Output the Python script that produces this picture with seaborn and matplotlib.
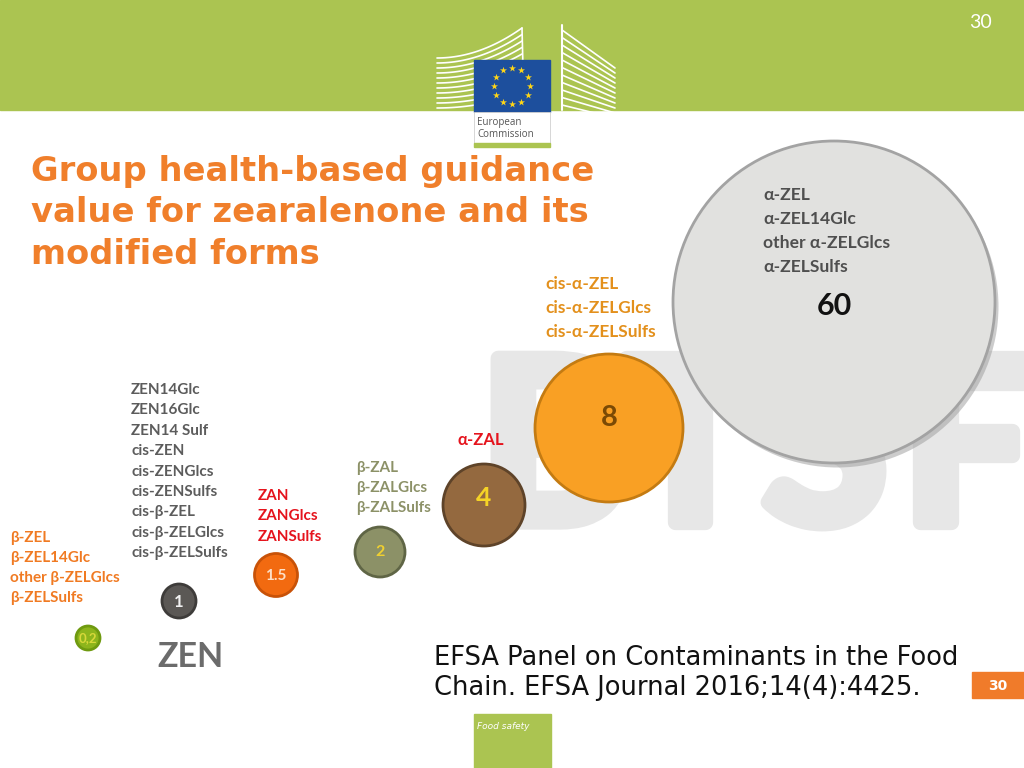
import numpy as np
import pandas as pd
import matplotlib.pyplot as plt
import matplotlib.patheffects as pe
import seaborn as sns
from matplotlib.patches import Rectangle

# Bubble data: potency factors of the modified forms
factor_text = ['0,2', '1', '1.5', '2', '4', '8', '60']
factor_value = [0.2, 1, 1.5, 2, 4, 8, 60]
fill_colors = ['#8db51c', '#5b5855', '#f26a10', '#8c9167', '#94693f', '#f9a024', '#e1e1df']
edge_colors = ['#6f9a10', '#3e3c3a', '#c85208', '#5f6545', '#5e4329', '#c47b12', '#a3a3a3']
number_colors = ['#d8d83a', '#f2f2f2', '#fde0c8', '#f0d030', '#f5d326', '#7b4a05', '#111111']

# Group labels
group_text = [
    ['α-ZEL', 'α-ZEL14Glc', 'other α-ZELGlcs', 'α-ZELSulfs'],
    ['cis-α-ZEL', 'cis-α-ZELGlcs', 'cis-α-ZELSulfs'],
    ['ZEN14Glc', 'ZEN16Glc', 'ZEN14 Sulf', 'cis-ZEN', 'cis-ZENGlcs', 'cis-ZENSulfs',
     'cis-β-ZEL', 'cis-β-ZELGlcs', 'cis-β-ZELSulfs'],
    ['ZAN', 'ZANGlcs', 'ZANSulfs'],
    ['β-ZAL', 'β-ZALGlcs', 'β-ZALSulfs'],
    ['α-ZAL'],
    ['β-ZEL', 'β-ZEL14Glc', 'other β-ZELGlcs', 'β-ZELSulfs'],
]
group_colors = ['#4f4f4f', '#e3901c', '#5c5c5c', '#e5141d', '#8c9167', '#e5141d', '#f07a22']

title_lines = ['Group health-based guidance', 'value for zearalenone and its', 'modified forms']
citation_lines = ['EFSA Panel on Contaminants in the Food', 'Chain. EFSA Journal 2016;14(4):4425.']

# layout (pixel space of the slide)
bubble_x = [88, 179, 276, 380, 484, 609, 834]
bubble_y = [638, 601, 575, 552, 505, 428, 302]
bubble_r = [12, 17, 21.5, 25, 41, 74, 161]
number_dy = [0, 1, 1, 0, -7.5, -10, 4]
number_sizes = [9.5, 12, 11, 11.5, 19, 21, 22]
group_pos = [(763, 200, 24), (545, 289, 24), (131, 394, 20.4), (258, 500, 20.5),
             (356, 472, 20), (457, 445, 20), (10, 542, 20)]
group_fs = [12.6, 12.4, 11, 11, 11, 12, 11]

sns.set_theme(style='white')
plt.rcParams['font.family'] = ['Lato', 'DejaVu Sans']

fig = plt.figure(figsize=(10.24, 7.68), dpi=100)
ax = fig.add_axes([0, 0, 1, 1])
ax.set_xlim(0, 1024)
ax.set_ylim(768, 0)
ax.axis('off')


def put_lines(x, y0, step, lines, **kw):
    for k, line in enumerate(lines):
        ax.text(x, y0 + k * step, line, va='baseline', ha='left', **kw)


# top banner + page number
ax.add_patch(Rectangle((0, 0), 1024, 110, color='#abc451', zorder=0))
ax.text(980, 28, '30', color='white', fontsize=14, ha='center', va='baseline')

# European Commission logo
for i in range(11):
    y0 = 58 + i * 5
    xs = np.linspace(437, 522, 30)
    ys = y0 - (xs - 437) ** 2 / 85 ** 2 * (30 - i * 1.5)
    ax.plot(xs, ys, color='white', lw=1.2, zorder=1)
ax.plot([522, 524], [28, 108], color='white', lw=1.2, zorder=1)
for i in range(11):
    y0 = 30 + i * 7.5
    xs = np.linspace(562, 615, 30)
    ys = y0 + (xs - 562) / 53 * (38 - i * 2.5)
    ax.plot(xs, ys, color='white', lw=1.2, zorder=1)
ax.plot([562, 562], [25, 110], color='white', lw=1.5, zorder=1)
ax.add_patch(Rectangle((474, 60), 76, 52, color='#1d4f9d', zorder=2))
ang = np.arange(12) * np.pi / 6
ax.scatter(512 + 18 * np.cos(ang), 86 + 18 * np.sin(ang), marker='*', s=28,
           color='#ffd617', linewidths=0, zorder=3)
ax.add_patch(Rectangle((474, 112), 76, 31, facecolor='white', edgecolor='#d0d0d0',
                       lw=0.6, zorder=2))
ax.add_patch(Rectangle((474, 143), 76, 4, color='#abc451', zorder=2))
put_lines(477, 125, 12, ['European', 'Commission'], fontsize=7, color='#555555',
          zorder=3, family=['Open Sans', 'DejaVu Sans'])

# BTSF watermark (stroke to thicken the letters)
wm_col = '#e7e7e7'
wm = dict(fontsize=163, fontweight='bold', color=wm_col, va='baseline', zorder=1,
          path_effects=[pe.withStroke(linewidth=11, foreground=wm_col)])
ax.text(480, 522, 'B', ha='left', **wm)
ax.text(690, 522, 'T', ha='center', **wm)
ax.text(825, 522, 'S', ha='center', **wm)
ax.text(902, 522, 'F', ha='left', **wm)

# title
put_lines(31, 181, 41.5, title_lines, color='#f07f2b', fontsize=24.3,
          fontweight='bold', family='DejaVu Sans', zorder=4)

# bubbles
df = pd.DataFrame({'label': factor_text, 'value': factor_value,
                   'x': bubble_x, 'y': bubble_y, 'r': bubble_r})
df['area'] = (2 * df['r'] * 0.72) ** 2
pal = dict(zip(factor_text, fill_colors))
sizes = dict(zip(factor_text, df['area']))

# shadow for the big circle
big = df.iloc[[-1]].copy()
ax.scatter(big['x'] + 3, big['y'] + 4, s=big['area'], color='#9a9a9a', alpha=0.5,
           linewidths=0, zorder=4)

sns.scatterplot(data=df, x='x', y='y', hue='label', palette=pal, size='label',
                sizes=sizes, edgecolor=edge_colors, linewidth=2, legend=False,
                ax=ax, zorder=5)
ax.set_xlim(0, 1024)
ax.set_ylim(768, 0)

for i, row in df.iterrows():
    ax.text(row['x'], row['y'] + number_dy[i], row['label'], color=number_colors[i],
            fontsize=number_sizes[i], fontweight='bold', ha='center', va='center',
            zorder=6)

# group labels
for lines, col, (gx, gy, step), fs in zip(group_text, group_colors, group_pos, group_fs):
    put_lines(gx, gy, step, lines, color=col, fontsize=fs, fontweight='bold', zorder=7)

ax.text(191, 667, 'ZEN', color='#6b6b6b', fontsize=24.5, fontweight='bold',
        ha='center', va='baseline', zorder=7)

# citation
put_lines(434, 665, 30, citation_lines, color='#111111', fontsize=18.5,
          family='DejaVu Sans', zorder=7)

# bottom boxes
ax.add_patch(Rectangle((972, 672), 52, 26, color='#f07b2a', zorder=7))
ax.text(998, 689.5, '30', color='white', fontsize=10, fontweight='bold',
        ha='center', va='baseline', zorder=8, family='DejaVu Sans')
ax.add_patch(Rectangle((474, 714), 77, 54, color='#abc451', zorder=7))
ax.text(477, 729, 'Food safety', color='white', fontsize=6.5, style='italic',
        va='baseline', zorder=8, family='DejaVu Sans')

fig.savefig('out.png', dpi=100)
